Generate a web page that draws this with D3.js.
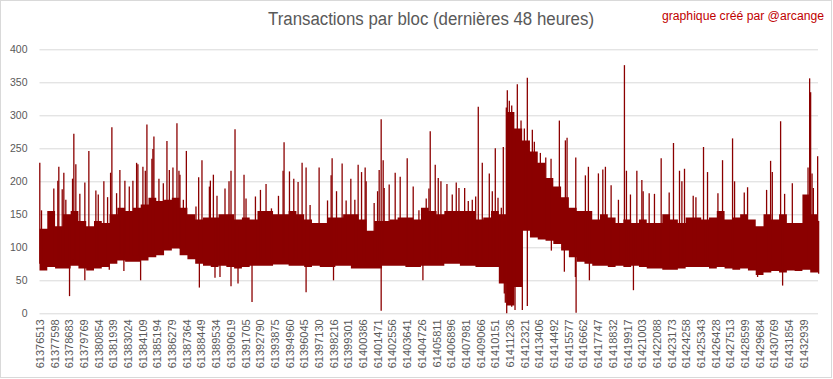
<!DOCTYPE html>
<html>
<head>
<meta charset="utf-8">
<script src="https://cdn.jsdelivr.net/npm/d3@7"></script>
<style>
  body { margin: 0; background: #fff; }
  svg { display: block; }
</style>
</head>
<body>
<svg width="833" height="379"></svg>
<script>
// first block of the 48h window, block count
var firstBlock = 61376513;
var blockCount = 57500;
var bucketSize = 575;

// dense band per bucket of 575 blocks: upper and lower edge (tx per block)
var bandHigh = [128, 155, 132, 150, 155, 140, 132, 140, 137, 150,
                160, 155, 160, 165, 175, 170, 172, 175, 160, 150,
                142, 145, 145, 150, 150, 142, 145, 142, 155, 155,
                150, 150, 155, 150, 142, 137, 137, 145, 145, 150,
                150, 142, 125, 140, 140, 142, 145, 145, 142, 160,
                155, 150, 155, 155, 155, 155, 142, 145, 155, 150,
                305, 280, 262, 245, 228, 205, 192, 176, 160, 155,
                155, 142, 150, 145, 137, 142, 137, 142, 137, 137,
                150, 142, 137, 145, 145, 142, 145, 155, 142, 145,
                150, 142, 132, 150, 142, 150, 137, 137, 180, 150];
var bandLow = [65, 70, 68, 68, 72, 68, 65, 68, 70, 75,
               80, 78, 78, 80, 85, 88, 95, 98, 88, 82,
               75, 72, 70, 72, 70, 68, 70, 72, 72, 72,
               74, 74, 72, 72, 70, 72, 70, 70, 72, 72,
               68, 68, 68, 68, 72, 72, 72, 70, 70, 72,
               72, 72, 75, 75, 72, 72, 70, 70, 70, 45,
               12, 40, 125, 115, 112, 110, 105, 95, 85, 78,
               75, 72, 72, 70, 72, 70, 72, 70, 68, 68,
               66, 66, 68, 70, 70, 70, 68, 70, 68, 66,
               68, 65, 58, 62, 64, 62, 65, 64, 66, 62];

// isolated peaks: block index in window, tx count
var peakBlocks = [22, 148, 1057, 1353, 1427, 1678, 1797, 1945, 2440, 2536,
                  2684, 2980, 3349, 3645, 4163, 4340, 4754, 5028, 5250, 5346,
                  5693, 5937, 6307, 6632, 6899, 7172, 7268, 7638, 7815, 7934,
                  8303, 8377, 8451, 8821, 9146, 9413, 9590, 9856, 10152, 10300,
                  10374, 10625, 10847, 11557, 11756, 12000, 12548, 12621, 12843, 13110,
                  13701, 13997, 14145, 14441, 15106, 15254, 15949, 16319, 16733, 17132,
                  17650, 17990, 18064, 18463, 18781, 19099, 19395, 19690, 19986, 20652,
                  21273, 21539, 21613, 21938, 22352, 22648, 22995, 23291, 23535, 23786,
                  24053, 24127, 24718, 24970, 25088, 25236, 25384, 25458, 25828, 26271,
                  26641, 27159, 27602, 28024, 28563, 28763, 28859, 29229, 29451, 29650,
                  30094, 30486, 30781, 30981, 31402, 31669, 31965, 32216, 32408, 32704,
                  33222, 33444, 33665, 33865, 34109, 34257, 34479, 34553, 34701, 34878,
                  35292, 35566, 35810, 36031, 36401, 36549, 36993, 37392, 37783, 38397,
                  38841, 38966, 39609, 40319, 40541, 41280, 41606, 41798, 42220, 42760,
                  43203, 43351, 43647, 44120, 44490, 44586, 45030, 45421, 45917, 46508,
                  46826, 47270, 47447, 47640, 48283, 48483, 49044, 49340, 50109, 50449,
                  51189, 51337, 52054, 52298, 53703, 53999, 54125, 54738, 55034, 55603,
                  56764, 56882, 56956, 57060, 57156, 57474];
var peakValues = [228, 156, 189, 201, 222, 188, 213, 172, 204, 272,
                  226, 181, 198, 246, 186, 180, 200, 176, 213, 282,
                  182, 217, 201, 192, 201, 228, 226, 222, 216, 286,
                  234, 249, 268, 204, 197, 261, 217, 221, 288, 216,
                  210, 172, 246, 162, 206, 232, 192, 201, 210, 178,
                  189, 200, 216, 279, 210, 174, 177, 187, 196, 159,
                  178, 216, 259, 215, 204, 199, 228, 221, 164, 221,
                  171, 209, 235, 185, 227, 171, 204, 172, 225, 214,
                  221, 200, 167, 185, 217, 294, 232, 190, 195, 213,
                  207, 235, 192, 156, 174, 189, 276, 225, 205, 200,
                  196, 180, 198, 190, 190, 170, 172, 177, 313, 228,
                  212, 185, 250, 175, 160, 252, 312, 338, 322, 315,
                  347, 292, 280, 357, 278, 260, 243, 236, 234, 292,
                  262, 266, 236, 209, 222, 212, 218, 222, 194, 172,
                  376, 216, 180, 216, 202, 185, 182, 181, 235, 183,
                  258, 216, 200, 219, 178, 176, 252, 214, 182, 232,
                  265, 200, 183, 191, 187, 231, 214, 291, 181, 197,
                  221, 356, 335, 212, 190, 238];

// isolated drops
var dropBlocks = [2218, 3349, 5154, 6233, 7468, 11808, 12962, 13331, 14145, 14662,
                  15697, 19690, 21716, 25236, 28319, 34331, 34405, 34508, 34878, 35122,
                  35662, 36031, 37806, 38767, 39581, 39633, 40615, 43868, 53037, 54886,
                  57547];
var dropValues = [26, 50, 66, 64, 50, 39, 54, 55, 41, 45,
                  17, 32, 50, 4, 50, 30, 16, 0, 10, 5,
                  5, 11, 95, 63, 55, 1, 50, 35, 55, 42,
                  60];

var yTicks = [0, 50, 100, 150, 200, 250, 300, 350, 400];
var xTickLabels = [61376513, 61377598, 61378683, 61379769, 61380854, 61381939, 61383024, 61384109,
                   61385194, 61386279, 61387364, 61388449, 61389534, 61390619, 61391705, 61392790,
                   61393875, 61394960, 61396045, 61397130, 61398216, 61399301, 61400386, 61401471,
                   61402556, 61403641, 61404726, 61405811, 61406896, 61407981, 61409066, 61410151,
                   61411236, 61412321, 61413406, 61414492, 61415577, 61416662, 61417747, 61418832,
                   61419917, 61421003, 61422088, 61423173, 61424258, 61425343, 61426428, 61427513,
                   61428599, 61429684, 61430769, 61431854, 61432939];

var barColor = '#8b0000';
var textGrey = '#595959';

var svg = d3.select('svg');
var svgWidth = +svg.attr('width');
var svgHeight = +svg.attr('height');

// outer frame
svg.append('rect')
    .attr('x', 0.5).attr('y', 0.5)
    .attr('width', svgWidth - 2).attr('height', svgHeight - 2)
    .attr('fill', '#fff')
    .attr('stroke', '#d9d9d9');

var x = d3.scaleLinear().domain([0, blockCount]).range([39.5, 818]);
var y = d3.scaleLinear().domain([0, 400]).range([313.3, 49.3]);

// gridlines + y labels
var yAxis = d3.axisLeft(y)
    .tickValues(yTicks)
    .tickSize(-(818 - 39.5))
    .tickPadding(12);

var yG = svg.append('g')
    .attr('transform', 'translate(39.5,0)')
    .call(yAxis);
yG.select('.domain').remove();
yG.selectAll('.tick line').attr('stroke', '#d9d9d9');
yG.selectAll('.tick text')
    .attr('fill', textGrey)
    .style('font-family', 'Liberation Sans, Arial, sans-serif')
    .style('font-size', '10.5px');

// dense band, stepped per bucket (last value repeated to close the window)
var n = bandHigh.length;
var stepIdx = d3.range(n + 1);
var band = d3.area()
    .x(i => x(i * bucketSize))
    .y0(i => y(bandLow[Math.min(i, n - 1)]))
    .y1(i => y(bandHigh[Math.min(i, n - 1)]))
    .curve(d3.curveStepAfter);

svg.append('path')
    .datum(stepIdx)
    .attr('d', band)
    .attr('fill', barColor);

// peaks and drops
var peaks = peakBlocks.map((b, i) => ({b: b, v: peakValues[i]}));
var drops = dropBlocks.map((b, i) => ({b: b, v: dropValues[i]}));
var bucketOf = b => Math.min(n - 1, Math.floor(b / bucketSize));

svg.append('g')
    .selectAll('line')
    .data(peaks)
    .join('line')
    .attr('x1', d => x(d.b)).attr('x2', d => x(d.b))
    .attr('y1', d => y(d.v))
    .attr('y2', d => y(bandLow[bucketOf(d.b)] + 10))
    .attr('stroke', barColor)
    .attr('stroke-width', 1.3);

svg.append('g')
    .selectAll('line')
    .data(drops)
    .join('line')
    .attr('x1', d => x(d.b)).attr('x2', d => x(d.b))
    .attr('y1', d => y(d.v))
    .attr('y2', d => y(bandHigh[bucketOf(d.b)] - 10))
    .attr('stroke', barColor)
    .attr('stroke-width', 1.3);

// x labels, rotated
var xAxis = d3.axisBottom(x)
    .tickValues(xTickLabels.map(d => d - firstBlock))
    .tickFormat(d => String(d + firstBlock))
    .tickSize(0);

var xG = svg.append('g')
    .attr('transform', 'translate(0,313.3)')
    .call(xAxis);
xG.select('.domain').remove();
xG.selectAll('.tick text')
    .attr('fill', textGrey)
    .style('font-family', 'Liberation Sans, Arial, sans-serif')
    .style('font-size', '11px')
    .attr('text-anchor', 'end')
    .attr('transform', 'rotate(-90)')
    .attr('x', -6)
    .attr('y', 0)
    .attr('dy', '0.35em');

// title
svg.append('text')
    .attr('x', 431)
    .attr('y', 25)
    .attr('text-anchor', 'middle')
    .attr('fill', textGrey)
    .attr('textLength', 326)
    .attr('lengthAdjust', 'spacingAndGlyphs')
    .style('font-family', 'Liberation Sans, Arial, sans-serif')
    .style('font-size', '18px')
    .text('Transactions par bloc (dernières 48 heures)');

svg.append('text')
    .attr('x', 824)
    .attr('y', 20)
    .attr('text-anchor', 'end')
    .attr('fill', '#c00000')
    .attr('textLength', 162)
    .attr('lengthAdjust', 'spacingAndGlyphs')
    .style('font-family', 'Liberation Sans, Arial, sans-serif')
    .style('font-size', '12px')
    .text('graphique créé par @arcange');
</script>
</body>
</html>
